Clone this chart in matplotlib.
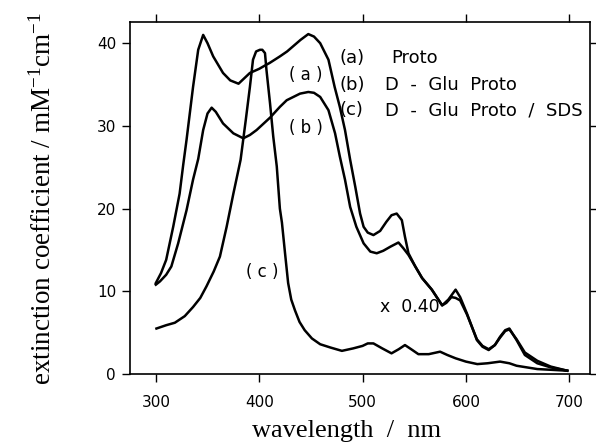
import matplotlib
matplotlib.use("Agg")
import matplotlib.pyplot as plt

# (a) Proto
wl_a = [300, 305, 310, 316.8, 323, 326.5, 329.7, 336, 341, 345.8, 350, 355.5, 365, 372,
        380, 391, 400, 407, 410, 420, 427, 440, 447.5, 453, 459, 467, 473, 478, 483,
        488, 493, 497.6, 501, 505, 510.5, 517, 523, 528, 533, 538, 541, 544.4, 551,
        557.6, 567, 577, 583, 590, 594.4, 601, 610.6, 616, 622, 628, 633, 638, 642,
        649, 657, 669, 682, 698]
eps_a = [11.0, 12.2, 13.8, 17.8, 21.8, 25.3, 28.3, 34.7, 39.2, 41.0, 40.0, 38.4, 36.4,
         35.5, 35.1, 36.4, 36.9, 37.4, 37.6, 38.4, 39.0, 40.4, 41.1, 40.8, 40.0, 38.0,
         34.7, 32.3, 29.5, 25.9, 22.6, 19.4, 17.8, 17.1, 16.8, 17.3, 18.4, 19.2, 19.4,
         18.6, 16.6, 14.6, 13.0, 11.6, 10.2, 8.3, 9.0, 10.2, 9.3, 7.3, 4.1, 3.3, 2.9,
         3.5, 4.5, 5.3, 5.5, 4.1, 2.3, 1.3, 0.8, 0.4]

# (b) D-Glu Proto
wl_b = [300, 304, 310, 315, 321.6, 329.7, 336, 341, 345.8, 350, 354, 358, 365, 375,
        384.6, 391, 397.5, 410.5, 420, 426.6, 439.5, 447.5, 453, 459, 467, 473.4, 478,
        483, 488, 494, 501, 507.5, 513.7, 520, 527, 534.7, 539.5, 544.4, 551, 557.6,
        567, 577, 581, 586, 590, 594.4, 601, 610.6, 616, 622, 628, 633, 638, 642, 649,
        657, 669, 682, 698]
eps_b = [10.8, 11.2, 12.0, 13.0, 15.8, 19.8, 23.5, 26.0, 29.5, 31.5, 32.2, 31.7, 30.3,
         29.1, 28.5, 28.9, 29.5, 31.0, 32.3, 33.1, 33.9, 34.1, 34.0, 33.5, 31.9, 29.1,
         26.3, 23.5, 20.2, 17.8, 15.8, 14.8, 14.6, 14.9, 15.4, 15.9, 15.2, 14.4, 13.0,
         11.6, 10.2, 8.3, 8.6, 9.3, 9.2, 8.9, 7.2, 4.2, 3.4, 3.0, 3.5, 4.4, 5.2, 5.4,
         4.2, 2.6, 1.6, 0.9, 0.4]

# (c) D-Glu Proto / SDS  (x 0.40)
wl_c = [300.6, 310, 318.4, 328, 336, 343, 349, 356, 362, 368.5, 375, 382, 387, 391,
        394, 397, 400.7, 403, 405.6, 407, 410.5, 413.6, 417, 420, 422, 425, 428, 431,
        434.6, 439, 444, 451, 459, 469, 480, 491, 500, 505, 510.5, 519, 528, 535, 541,
        547, 554, 564, 575, 582, 590, 600, 611, 621, 633, 642, 649, 659, 669, 684, 698]
eps_c = [5.5, 5.9, 6.2, 7.0, 8.1, 9.2, 10.6, 12.4, 14.2, 17.8, 21.8, 25.9, 30.7, 34.7,
         38.0, 39.0, 39.2, 39.2, 38.8, 36.8, 32.7, 28.7, 25.1, 20.0, 18.3, 14.6, 11.0,
         9.0, 7.7, 6.3, 5.3, 4.3, 3.6, 3.2, 2.8, 3.1, 3.4, 3.7, 3.7, 3.1, 2.5, 3.0, 3.5,
         3.0, 2.4, 2.4, 2.7, 2.3, 1.9, 1.5, 1.2, 1.3, 1.5, 1.3, 1.0, 0.8, 0.6, 0.5, 0.4]

x_ticks = [300, 400, 500, 600, 700]
y_ticks = [0, 10, 20, 30, 40]
legend_keys = ["(a)", "(b)", "(c)"]
legend_names = ["Proto", "D  -  Glu  Proto", "D  -  Glu  Proto  /  SDS"]

plt.rcParams["mathtext.fontset"] = "custom"
plt.rcParams["mathtext.rm"] = "Liberation Serif"
plt.rcParams["mathtext.it"] = "Liberation Serif"

fig = plt.figure(figsize=(5.96, 4.46), dpi=100)
ax = fig.add_axes([0.2181, 0.1614, 0.7718, 0.790])

for wl, eps in [(wl_a, eps_a), (wl_b, eps_b), (wl_c, eps_c)]:
    ax.plot(wl, eps, color="black", lw=1.8, solid_joinstyle="round")

ax.set_xlim(275, 720)
ax.set_ylim(0, 42.6)
ax.set_xticks(x_ticks)
ax.set_yticks(y_ticks)
ax.tick_params(direction="out", length=6, width=1.0, labelsize=11,
               top=True, right=True, labeltop=False, labelright=False)
ax.tick_params(axis="x", pad=9)
ax.tick_params(axis="y", pad=4)
for lab in ax.get_xticklabels() + ax.get_yticklabels():
    lab.set_family("DejaVu Sans")
for s in ax.spines.values():
    s.set_linewidth(1.2)

ax.text(0.47, -0.163, "wavelength  /  nm", transform=ax.transAxes,
        ha="center", va="center", fontsize=19, family="Liberation Serif")
fig.text(0.072, 0.556, "extinction coefficient / mM$^{-1}$cm$^{-1}$",
         rotation=90, ha="center", va="center", fontsize=19.5,
         family="Liberation Serif")

# curve labels
lab_kw = dict(fontsize=12, family="DejaVu Sans", ha="center", va="center")
ax.text(445, 36.2, "( a )", **lab_kw)
ax.text(445, 29.7, "( b )", **lab_kw)
ax.text(403, 12.3, "( c )", **lab_kw)
ax.text(517, 8.1, "x  0.40", fontsize=12.5, family="DejaVu Sans", ha="left", va="center")

for key, name, yv in zip(legend_keys, legend_names, [38.2, 34.9, 31.9]):
    ax.text(478, yv, key, fontsize=13, family="DejaVu Sans", ha="left", va="center")
    ax.text(522 if key != "(a)" else 528, yv, name, fontsize=13,
            family="DejaVu Sans", ha="left", va="center")

fig.savefig("out.png", dpi=100, facecolor="white")
